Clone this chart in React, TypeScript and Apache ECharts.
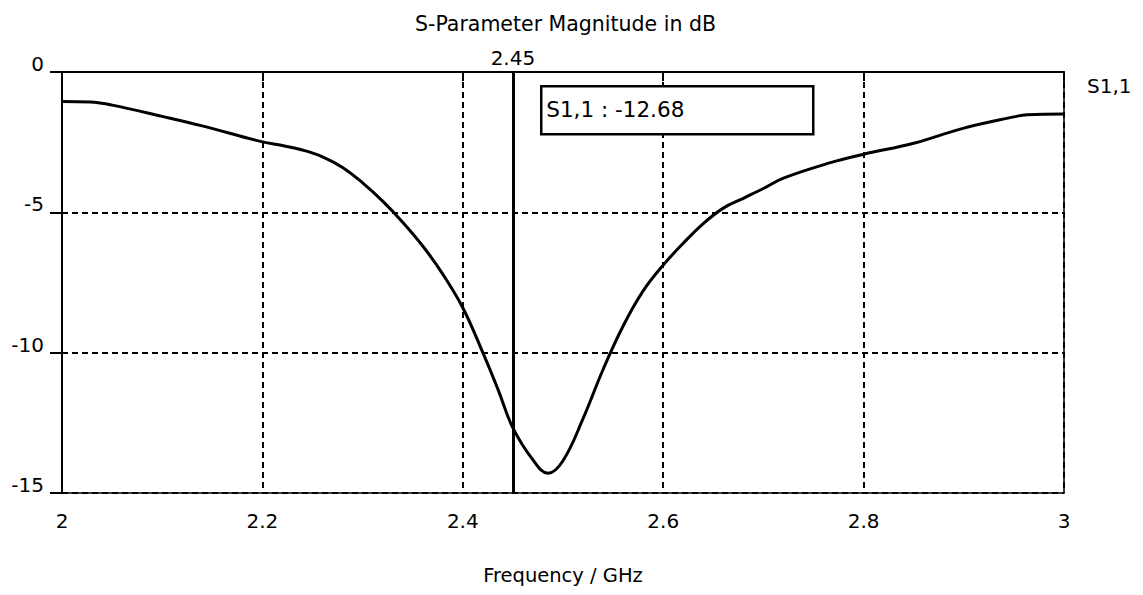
import React, { useEffect, useRef } from "react";
import * as echarts from "echarts";

const freqs = [2.0, 2.028, 2.05, 2.1, 2.14, 2.2, 2.22, 2.24, 2.26, 2.28, 2.3, 2.32, 2.34, 2.36, 2.38, 2.4, 2.42, 2.435, 2.45, 2.47, 2.485, 2.5, 2.52, 2.54, 2.56, 2.58, 2.6, 2.62, 2.64, 2.66, 2.68, 2.7, 2.72, 2.766, 2.8, 2.85, 2.9, 2.95, 2.963, 3.0];
const s11 = [-1.05, -1.07, -1.18, -1.58, -1.92, -2.49, -2.62, -2.78, -3.02, -3.4, -3.95, -4.6, -5.35, -6.2, -7.2, -8.4, -10.0, -11.3, -12.68, -13.82, -14.3, -13.85, -12.35, -10.6, -9.05, -7.8, -6.88, -6.1, -5.4, -4.85, -4.5, -4.15, -3.78, -3.24, -2.93, -2.54, -2.0, -1.6, -1.52, -1.5];
const xTicks = [2, 2.2, 2.4, 2.6, 2.8, 3];
const yTicks = [0, -5, -10, -15];
const markerFreq = 2.45;
const markerValue = -12.68;
const seriesName = "S1,1";
const titleText = "S-Parameter Magnitude in dB";
const xName = "Frequency / GHz";

const FONT = "DejaVu Sans";

export default function App() {
  const ref = useRef<HTMLDivElement>(null);
  useEffect(() => {
    if (!ref.current) return;
    const chart = echarts.init(ref.current, undefined, { renderer: "svg" });
    const data = freqs.map((f, i) => [f, s11[i]]);
    chart.setOption({
      animation: false,
      backgroundColor: "#fff",
      textStyle: { fontFamily: FONT, color: "#000" },
      title: {
        text: titleText,
        left: 410,
        top: 8,
        textStyle: { fontFamily: FONT, fontSize: 20.5, fontWeight: "normal", color: "#000" },
      },
      grid: {
        left: 62,
        right: 79,
        top: 72,
        bottom: 102,
        show: true,
        borderColor: "#000",
        borderWidth: 1.5,
        backgroundColor: "transparent",
      },
      xAxis: {
        type: "value",
        min: 2,
        max: 3,
        interval: 0.2,
        name: xName,
        nameLocation: "middle",
        nameGap: 72,
        nameTextStyle: { fontFamily: FONT, fontSize: 19.5, color: "#000" },
        axisLine: { show: true, lineStyle: { color: "#000", width: 2 } },
        axisTick: { show: true, length: 9, lineStyle: { color: "#000", width: 2 } },
        axisLabel: {
          fontFamily: FONT,
          fontSize: 20,
          color: "#000",
          margin: 18,
          formatter: (v: number) => {
            const t = xTicks.find((x) => Math.abs(x - v) < 1e-9);
            return t === undefined ? "" : String(t);
          },
        },
        splitLine: { show: true, lineStyle: { color: "#000", width: 2, type: [6, 4] } },
      },
      yAxis: {
        type: "value",
        min: -15,
        max: 0,
        interval: 5,
        axisLine: { show: true, onZero: false, lineStyle: { color: "#000", width: 2 } },
        axisTick: { show: true, length: 12, lineStyle: { color: "#000", width: 2 } },
        axisLabel: {
          fontFamily: FONT,
          fontSize: 20,
          color: "#000",
          margin: 18,
          verticalAlign: "bottom",
          lineHeight: 16,
          formatter: (v: number) => {
            const t = yTicks.find((y) => Math.abs(y - v) < 1e-9);
            return t === undefined ? "" : String(t);
          },
        },
        splitLine: { show: true, lineStyle: { color: "#000", width: 2, type: [6, 4] } },
      },
      graphic: [
        {
          type: "text",
          left: 1087,
          top: 76,
          z: 100,
          style: { text: seriesName, fontFamily: FONT, fontSize: 20, fill: "#000" },
        },
        {
          type: "group",
          left: 540,
          top: 85,
          z: 100,
          children: [
            {
              type: "rect",
              z: 100,
              shape: { x: 0, y: 0, width: 272, height: 48 },
              style: { fill: "#fff", stroke: "#000", lineWidth: 2.5 },
            },
            {
              type: "text",
              z: 101,
              x: 5,
              y: 12,
              style: {
                text: `${seriesName} : ${markerValue.toFixed(2)}`,
                fontFamily: FONT,
                fontSize: 21.5,
                fill: "#000",
              },
            },
          ],
        },
      ],
      series: [
        {
          name: seriesName,
          type: "line",
          data,
          smooth: 0.4,
          showSymbol: false,
          symbol: "none",
          lineStyle: { color: "#000", width: 3 },
          z: 3,
          markLine: {
            silent: true,
            symbol: "none",
            data: [{ xAxis: markerFreq }],
            lineStyle: { color: "#000", width: 3, type: "solid" },
            label: {
              show: true,
              position: "end",
              distance: 4,
              formatter: String(markerFreq),
              fontFamily: FONT,
              fontSize: 20,
              color: "#000",
            },
          },
        },
      ],
    });
    return () => chart.dispose();
  }, []);
  return (
    <div
      ref={ref}
      style={{ position: "absolute", left: 0, top: 0, width: 1143, height: 595, background: "#fff" }}
    />
  );
}
